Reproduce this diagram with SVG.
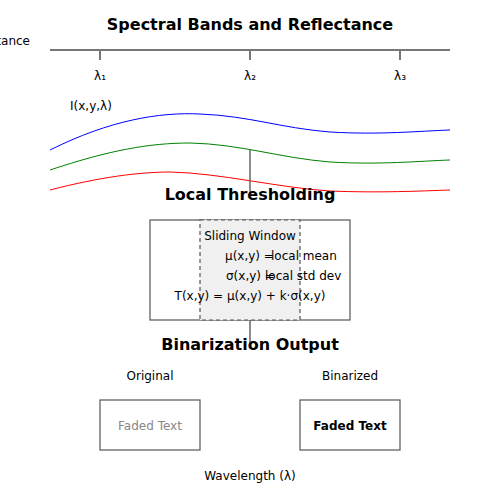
<svg xmlns="http://www.w3.org/2000/svg" width="500" height="500" viewBox="0 0 500 500">
<style>
text{font-family:"DejaVu Sans","Liberation Sans",sans-serif;fill:#000}
.t{font-size:16px;font-weight:bold;text-anchor:middle}
.h{font-size:16px;font-weight:bold;text-anchor:middle}
.s{font-size:12px}
.c{text-anchor:middle}
.ax{stroke:#777;stroke-width:2;fill:none}
.box{fill:#fff;stroke:#555;stroke-width:1.2}
.conn{stroke:#666;stroke-width:1.5;fill:none}
.curve{fill:none;stroke-width:1}
</style>
<rect width="500" height="500" fill="#fff"/>
<text class="t" x="250" y="30">Spectral Bands and Reflectance</text>
<text class="s" x="30" y="45" text-anchor="end">Reflectance</text>
<g id="axis">
<line class="ax" x1="50" y1="50" x2="450" y2="50"/>
<line class="ax" x1="100" y1="50" x2="100" y2="60"/>
<line class="ax" x1="250" y1="50" x2="250" y2="60"/>
<line class="ax" x1="400" y1="50" x2="400" y2="60"/>
<text class="s c" x="100" y="80">λ₁</text>
<text class="s c" x="250" y="80">λ₂</text>
<text class="s c" x="400" y="80">λ₃</text>
</g>
<text class="s" x="70" y="110">I(x,y,λ)</text>
<g id="curves">
<path class="curve" stroke="#0000ff" d="M50,150 C110,120 160,112 200,114 C250,116 280,128 330,132 C380,135 420,131 450,130"/>
<path class="curve" stroke="#008000" d="M50,170 C110,150 150,143 190,143 C240,144 280,158 330,162 C380,165 420,161 450,160"/>
<path class="curve" stroke="#ff0000" d="M50,190 C100,177 140,172 170,172 C220,173 280,188 330,191 C380,193 420,191 450,190"/>
</g>
<g id="connectors">
<line class="conn" x1="250" y1="150" x2="250" y2="196"/>
<line class="conn" x1="250" y1="320" x2="250" y2="346"/>
</g>
<text class="h" x="250" y="200">Local Thresholding</text>
<g id="threshold">
<rect class="box" x="150" y="220" width="200" height="100"/>
<rect x="200" y="220" width="100" height="100" fill="#f0f0f0" stroke="#555" stroke-width="1.2" stroke-dasharray="4,3"/>
<text class="s c" x="250" y="240">Sliding Window</text>
<text class="s" x="225" y="260">μ(x,y) =</text>
<text class="s" x="271" y="260">local mean</text>
<text class="s" x="226" y="280">σ(x,y) =</text>
<text class="s" x="265" y="280">local std dev</text>
<text class="s c" x="250" y="300">T(x,y) = μ(x,y) + k·σ(x,y)</text>
</g>
<text class="h" x="250" y="350">Binarization Output</text>
<g id="original">
<text class="s c" x="150" y="380">Original</text>
<rect class="box" x="100" y="400" width="100" height="50"/>
<text class="s c" x="150" y="430" style="fill:#888">Faded Text</text>
</g>
<g id="binarized">
<text class="s c" x="350" y="380">Binarized</text>
<rect class="box" x="300" y="400" width="100" height="50"/>
<text class="s c" x="350" y="430" font-weight="bold">Faded Text</text>
</g>
<text class="s c" x="250" y="480">Wavelength (λ)</text>
</svg>
